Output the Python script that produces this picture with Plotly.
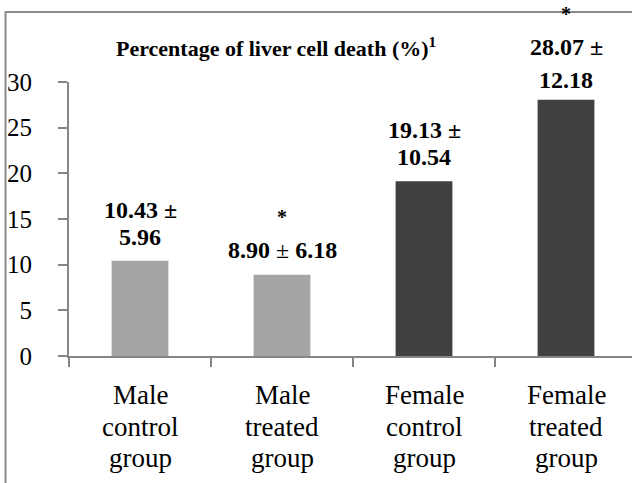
import plotly.graph_objects as go

# ---- data ----
categories = ["Male control group", "Male treated group",
              "Female control group", "Female treated group"]
category_lines = [["Male", "control", "group"],
                  ["Male", "treated", "group"],
                  ["Female", "control", "group"],
                  ["Female", "treated", "group"]]
means = [10.43, 8.90, 19.13, 28.07]
sds = [5.96, 6.18, 10.54, 12.18]
significant = [False, True, False, True]
split_label = [True, False, True, True]
bar_colors = ["#a5a5a5", "#a5a5a5", "#404040", "#404040"]
y_ticks = [0, 5, 10, 15, 20, 25, 30]
title_text = "Percentage of liver cell death (%)"

FONT = "Liberation Serif"

W, H = 632, 483
L, T, B = 69, 82, 356          # plot area pixels
PW = W - L
PH = B - T
CAT_PX = 142.0

fig = go.Figure()
x_idx = list(range(len(categories)))
fig.add_trace(go.Bar(
    x=x_idx, y=means, width=0.4,
    marker=dict(color=bar_colors, line=dict(width=0)),
    hoverinfo="skip", showlegend=False,
))

def px_to_px(px):
    return (px - L) / PW

def py_to_py(py):
    return (B - py) / PH

annotations = []
# value labels
for i, (m, s) in enumerate(zip(means, sds)):
    if split_label[i]:
        lines = [f"<b>{m:.2f} ±</b>", f"<b>{s:.2f}</b>"]
        offsets = [51, 24] if i != 3 else [53, 20]
    else:
        lines = [f"<b>{m:.2f}</b> ± <b>{s:.2f}</b>"]
        offsets = [25]
    for txt, off in zip(lines, offsets):
        annotations.append(dict(
            x=i, y=m, xref="x", yref="y", text=txt,
            showarrow=False, xanchor="center", yanchor="middle",
            yshift=off, font=dict(family=FONT, size=24, color="black")))
    if significant[i]:
        star_off = offsets[0] + 33
        annotations.append(dict(
            x=i, y=m, xref="x", yref="y", text="<b>*</b>",
            showarrow=False, xanchor="center", yanchor="middle",
            yshift=star_off, font=dict(family=FONT, size=20, color="black")))

# category labels (line by line)
for i, lines in enumerate(category_lines):
    for k, txt in enumerate(lines):
        annotations.append(dict(
            x=i, y=0, xref="x", yref="paper", text=txt,
            showarrow=False, xanchor="center", yanchor="middle",
            yshift=-(39 + 31.5 * k),
            font=dict(family=FONT, size=27, color="black")))

# title
annotations.append(dict(
    x=px_to_px(114), y=py_to_py(47), xref="paper", yref="paper",
    text=f"<b>{title_text}<sup>1</sup></b>", showarrow=False,
    xanchor="left", yanchor="middle",
    font=dict(family=FONT, size=22, color="black")))

axis_color = "#868686"
fig.update_layout(
    width=W, height=H,
    margin=dict(l=L, r=0, t=T, b=H - B, pad=0),
    paper_bgcolor="white", plot_bgcolor="white",
    font=dict(family=FONT, color="black"),
    xaxis=dict(
        range=[-0.5, -0.5 + PW / CAT_PX],
        showgrid=False, zeroline=False,
        showline=True, linecolor=axis_color, linewidth=2,
        tickmode="array", tickvals=[-0.5, 0.5, 1.5, 2.5, 3.5],
        showticklabels=False,
        ticks="outside", ticklen=9, tickwidth=2, tickcolor=axis_color,
        fixedrange=True,
    ),
    yaxis=dict(
        range=[0, 30], tickvals=y_ticks,
        showgrid=False, zeroline=False,
        showline=True, linecolor=axis_color, linewidth=2,
        ticks="outside", ticklen=9, tickwidth=2, tickcolor=axis_color,
        tickfont=dict(family=FONT, size=25, color="black"),
        ticklabelstandoff=21,
        fixedrange=True,
    ),
    annotations=annotations,
    shapes=[dict(
        type="rect", xref="paper", yref="paper",
        x0=px_to_px(5.5), x1=px_to_px(700),
        y0=py_to_py(560), y1=py_to_py(12),
        line=dict(color="#8a8a8a", width=2), fillcolor="rgba(0,0,0,0)",
        layer="below")],
)

fig.write_html("out.html", config={"displayModeBar": False},
               post_script="document.body.style.margin='0';")
